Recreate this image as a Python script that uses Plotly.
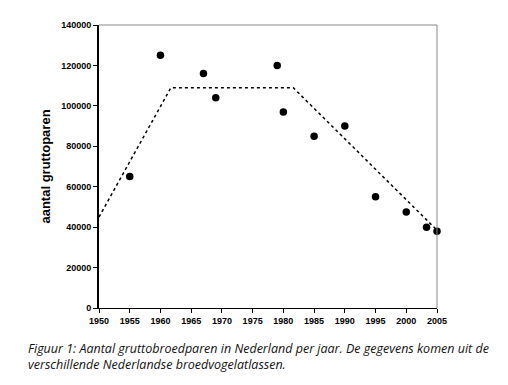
import plotly.graph_objects as go

years = [1955, 1960, 1967, 1969, 1979, 1980, 1985, 1990, 1995, 2000, 2003.3, 2005]
pairs = [65000, 125000, 116000, 104000, 120000, 97000, 85000, 90000, 55000, 47500, 40000, 38000]

trend_years = [1950, 1961.7, 1981.6, 2005]
trend_vals = [45000, 109000, 109000, 38500]

x_ticks = list(range(1950, 2006, 5))
y_ticks = list(range(0, 140001, 20000))

fig = go.Figure()
fig.add_trace(go.Scatter(x=trend_years, y=trend_vals, mode="lines",
                         line=dict(color="black", width=1.5, dash="dot"),
                         hoverinfo="skip", cliponaxis=False))
fig.add_trace(go.Scatter(x=years, y=pairs, mode="markers",
                         marker=dict(color="black", size=7.5), cliponaxis=False))

tickfont = dict(family="Liberation Sans, Arial", size=9, color="black")
fig.update_layout(
    width=508, height=385,
    margin=dict(l=91, r=79, t=12, b=85),
    paper_bgcolor="white", plot_bgcolor="white",
    showlegend=False,
    xaxis=dict(range=[1950, 2005], tickvals=x_ticks, ticktext=[f"<b>{v}</b>" for v in x_ticks],
               showgrid=False, zeroline=False, showline=True, linecolor="black", linewidth=1,
               ticks="outside", ticklen=4, tickcolor="black", tickfont=tickfont),
    yaxis=dict(range=[0, 140000], tickvals=y_ticks, ticktext=[f"<b>{v}</b>" for v in y_ticks],
               showgrid=False, zeroline=False, showline=True, linecolor="black", linewidth=2,
               ticks="outside", ticklen=4, tickcolor="black", tickfont=tickfont,
               title=dict(text="<b>aantal gruttoparen</b>", standoff=8,
                          font=dict(family="Liberation Sans, Arial", size=13, color="black"))),
    shapes=[
        dict(type="line", xref="paper", yref="paper", x0=0, x1=1, y0=1, y1=1,
             line=dict(color="#888888", width=1)),
        dict(type="line", xref="paper", yref="paper", x0=1, x1=1, y0=0, y1=1,
             line=dict(color="#888888", width=1)),
    ],
    annotations=[
        dict(xref="paper", yref="paper", x=-0.215, y=-0.105, xanchor="left", yanchor="top",
             align="left", showarrow=False,
             text="<i>Figuur 1: Aantal gruttobroedparen in Nederland per jaar. De gegevens komen uit de<br>verschillende Nederlandse broedvogelatlassen.</i>",
             font=dict(family="Open Sans", size=12.5, color="#111111")),
    ],
)
fig.write_html("out.html")
